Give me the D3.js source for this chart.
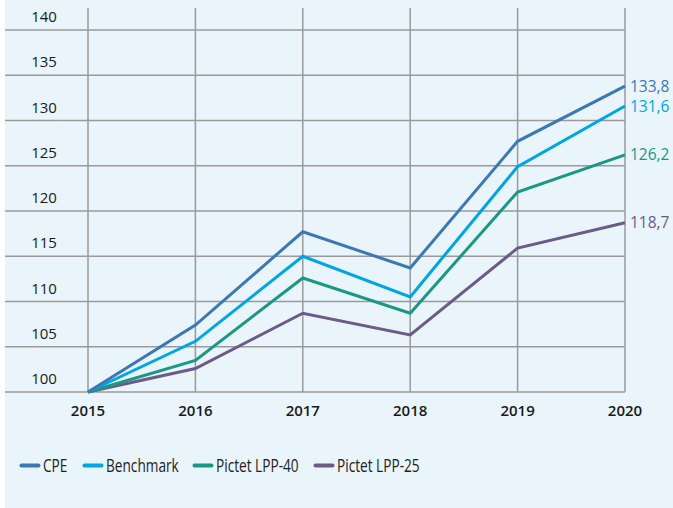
<!DOCTYPE html>
<html><head><meta charset="utf-8">
<script src="https://cdn.jsdelivr.net/npm/d3@7"></script>
<style>html,body{margin:0;padding:0;background:#fff;}svg{display:block;font-family:"Open Sans","Noto Sans",sans-serif;}</style>
</head><body>
<svg id="chart" width="673" height="508"></svg>
<script>
const years = [2015, 2016, 2017, 2018, 2019, 2020];
const seriesNames = ["CPE", "Benchmark", "Pictet LPP-40", "Pictet LPP-25"];
const cpe = [100, 107.4, 117.7, 113.7, 127.7, 133.8];
const benchmark = [100, 105.6, 115.0, 110.5, 124.9, 131.6];
const lpp40 = [100, 103.5, 112.6, 108.7, 122.1, 126.2];
const lpp25 = [100, 102.6, 108.7, 106.3, 115.9, 118.7];
const endLabels = ["133,8", "131,6", "126,2", "118,7"];
const yTicks = [100, 105, 110, 115, 120, 125, 130, 135, 140];
const colors = ["#3b78b6", "#00a6e2", "#1a9885", "#6c5a89"];

const values = [cpe, benchmark, lpp40, lpp25];
const svg = d3.select("#chart");
svg.append("rect").attr("x", 5).attr("y", 0).attr("width", 668).attr("height", 508).attr("fill", "#e9f4fb");

const x = d3.scalePoint().domain(years).range([88, 625]);
const y = d3.scaleLinear().domain([100, 140]).range([392, 30]);

const grid = svg.append("g");
grid.selectAll("line.h").data(yTicks).join("line")
  .attr("x1", 5).attr("x2", 625)
  .attr("y1", d => y(d)).attr("y2", d => y(d))
  .attr("stroke", "#9a9a9a").attr("stroke-width", 1.5);
grid.selectAll("line.v").data(years).join("line")
  .attr("x1", d => x(d)).attr("x2", d => x(d))
  .attr("y1", 8).attr("y2", 392)
  .attr("stroke", "#9a9a9a").attr("stroke-width", 1.5);

svg.append("g").selectAll("text").data(yTicks).join("text")
  .attr("x", 44).attr("y", d => y(d) - 8)
  .attr("text-anchor", "middle").attr("font-size", 15).attr("fill", "#1a1a1a")
  .text(d => d);

svg.append("g").selectAll("text").data(years).join("text")
  .attr("x", d => x(d)).attr("y", 416)
  .attr("text-anchor", "middle").attr("font-size", 15).attr("font-weight", 600).attr("fill", "#1a1a1a")
  .text(d => d);

const line = d3.line().x((d, i) => x(years[i])).y(d => y(d));
svg.append("g").selectAll("path").data(values.slice().reverse()).join("path")
  .attr("d", d => line(d)).attr("fill", "none")
  .attr("stroke", (d, i) => colors[3 - i]).attr("stroke-width", 3).attr("stroke-linejoin", "miter");

svg.append("g").selectAll("text").data(values).join("text")
  .attr("x", 630).attr("y", d => y(d[d.length - 1]) + 5.5)
  .attr("font-size", 15.5).attr("fill", (d, i) => colors[i])
  .text((d, i) => endLabels[i]);

const legX = [20, 83, 193, 314];
const leg = svg.append("g").selectAll("g").data(seriesNames).join("g")
  .attr("transform", (d, i) => `translate(${legX[i]},465.5)`);
leg.append("line").attr("x1", 1.5).attr("x2", 18.5).attr("y1", 0).attr("y2", 0)
  .attr("stroke", (d, i) => colors[i]).attr("stroke-width", 4).attr("stroke-linecap", "round");
leg.append("text").attr("transform", "translate(23,6.3) scale(0.78,1)").attr("font-size", 17.5).attr("fill", "#222")
  .text(d => d);
</script>
</body></html>
